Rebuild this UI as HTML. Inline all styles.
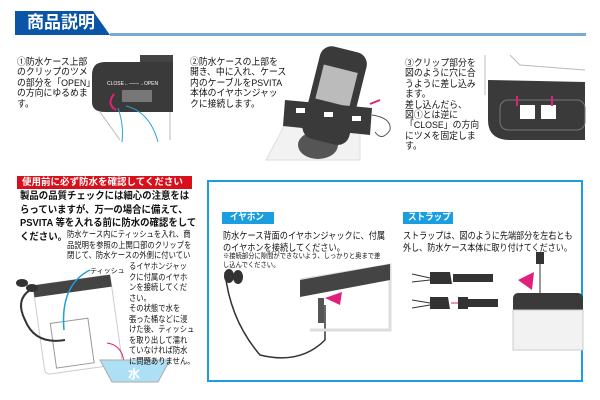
<!DOCTYPE html>
<html><head><meta charset="utf-8"><style>
*{margin:0;padding:0;box-sizing:border-box}
body{width:600px;height:400px;background:#fff;position:relative;overflow:hidden;font-family:"Liberation Sans","Noto Sans CJK JP",sans-serif;color:#111}
.a{position:absolute;transform-origin:0 0;white-space:nowrap}
.t{font-size:9.5px;line-height:10.4px;transform:scaleX(0.93)}
.s{font-size:8.5px;line-height:10.5px;transform:scaleX(0.86)}
</style></head><body>
<svg class="a" style="left:0;top:0" width="600" height="400">
<polygon points="15,11 93,11 110,35 15,35" fill="#0a55a5"/>
<rect x="110" y="33" width="476" height="3" fill="#7aa9d6"/>
<!-- ill 1 -->
<rect x="140" y="55" width="33" height="10" fill="#444"/>
<path d="M173,62 L105,62 Q92,62 92,75 L92,102 Q92,112 105,112 L173,112Z" fill="#3a3a3a"/>
<path d="M100,112 L120,140 M170,112 L170,140" stroke="#bbb" fill="none"/>
<text x="107" y="85" font-size="5" fill="#fff">CLOSE←——→OPEN</text>
<rect x="122" y="90" width="30" height="12" fill="#777"/>
<path d="M118,108 Q124,125 122,142 M126,106 Q150,112 158,142" stroke="#2aa0e0" fill="none"/>
<path d="M114,94 Q106,104 116,110" stroke="#e0207a" stroke-width="2" fill="none"/>
<!-- ill 2 -->
<path d="M266,160 L290,115 L360,115 L360,160Z" fill="#f2f2f2" stroke="#ddd"/>
<ellipse cx="318" cy="145" rx="20" ry="14" fill="#555"/>
<g transform="rotate(14 335 90)"><rect x="312" y="48" width="48" height="95" rx="12" fill="#3a3a3a"/><rect x="318" y="68" width="35" height="35" fill="#bbb"/></g>
<polygon points="285,100 372,108 370,135 283,126" fill="#3a3a3a"/>
<rect x="296" y="108" width="9" height="5" fill="#fff"/><rect x="324" y="112" width="9" height="5" fill="#fff"/><rect x="352" y="116" width="9" height="5" fill="#fff"/>
<path d="M372,115 Q392,118 390,130 Q382,142 375,132" stroke="#555" fill="none"/>
<path d="M380,100 L370,104" stroke="#e0207a" stroke-width="2"/>
<!-- ill 3 -->
<path d="M485,55 L485,95 M510,55 L520,65 L585,70" stroke="#bbb" fill="none"/>
<path d="M488,80 L585,82 L585,140 L510,140 Q488,140 488,120Z" fill="#3a3a3a"/>
<rect x="500" y="100" width="85" height="30" rx="8" fill="none" stroke="#777"/>
<rect x="520" y="105" width="15" height="14" fill="#fff"/><rect x="541" y="105" width="15" height="14" fill="#fff"/>
<path d="M517,96 L517,106 M552,96 L552,106" stroke="#e0207a" stroke-width="2"/>
<!-- section 2 -->
<rect x="17" y="176" width="175" height="13" fill="#d7101c"/>
<rect x="208" y="181" width="374" height="200" fill="none" stroke="#1a9ee0" stroke-width="2"/>
<rect x="222" y="212" width="52" height="12" fill="#1a9ee0"/>
<rect x="403" y="212" width="50" height="12" fill="#1a9ee0"/>
<!-- tissue -->
<g transform="rotate(-8 75 320)"><rect x="38" y="280" width="78" height="90" rx="5" fill="#fff" stroke="#ccc"/><rect x="38" y="280" width="78" height="12" fill="#444"/><rect x="50" y="320" width="38" height="45" fill="#fff" stroke="#999"/></g>
<path d="M30,290 Q15,300 25,320 Q35,345 65,340" stroke="#333" stroke-width="2" fill="none"/>
<ellipse cx="22" cy="283" rx="6" ry="4" fill="#333"/><ellipse cx="32" cy="288" rx="6" ry="4" fill="#333"/>
<path d="M90,270 Q60,285 64,330" stroke="#1a9ee0" stroke-width="1.5" fill="none"/>
<path d="M107,343 Q122,345 124,362" stroke="#e0207a" fill="none"/>
<path d="M100,360 L170,360 L158,382 L112,382Z" fill="#aee0f5" stroke="#aaa"/>
<text x="128" y="378" font-size="12" font-weight="bold" fill="#fff">水</text>
<!-- earphone ill -->
<path d="M225,272 Q230,320 260,355 Q300,365 325,340 L325,305" stroke="#333" stroke-width="1.5" fill="none"/>
<ellipse cx="229" cy="276" rx="5" ry="7" fill="#333"/><ellipse cx="238" cy="277" rx="5" ry="7" fill="#333"/>
<path d="M300,280 L390,265 L390,330 L310,330" fill="none" stroke="#ddd" stroke-width="3"/>
<polygon points="300,280 390,264 390,280 300,297" fill="#444"/>
<rect x="318" y="298" width="6" height="25" fill="#555"/>
<polygon points="325,298 342,292 340,305" fill="#e0207a"/>
<!-- strap ill -->
<rect x="453" y="274" width="40" height="8" fill="#333"/><polygon points="430,272 450,272 452,284 430,284" fill="#333"/>
<rect x="468" y="299" width="30" height="8" fill="#333"/><polygon points="430,297 448,297 450,309 430,309" fill="#333"/><polygon points="458,297 468,297 468,309 458,309" fill="#333"/>
<path d="M412,274 L430,278 M412,282 L430,280 M412,300 L430,303 M412,308 L430,305" stroke="#333"/>
<path d="M451,303 L458,303" stroke="#e0207a"/>
<rect x="513" y="293" width="70" height="22" rx="5" fill="#3a3a3a"/>
<rect x="513" y="310" width="70" height="40" fill="#f2f2f2" stroke="#ccc"/>
<rect x="536" y="252" width="8" height="12" fill="#333"/><path d="M540,264 L540,293" stroke="#333"/>
<polygon points="518,280 534,272 532,290" fill="#e0207a"/>
</svg>
<div class="a" style="left:27px;top:12px;font-size:17px;font-weight:bold;color:#fff;line-height:22px">商品説明</div>
<div class="a t" style="left:17px;top:58px">①防水ケース上部<br>のクリップのツメ<br>の部分を「OPEN」<br>の方向にゆるめま<br>す。</div>
<div class="a t" style="left:190px;top:58px">②防水ケースの上部を<br>開き、中に入れ、ケース<br>内のケーブルをPSVITA<br>本体のイヤホンジャッ<br>クに接続します。</div>
<div class="a t" style="left:405px;top:59px">③クリップ部分を<br>図のように穴に合<br>うように差し込み<br>ます。<br>差し込んだら、<br>図①とは逆に<br>「CLOSE」の方向<br>にツメを固定しま<br>す。</div>
<div class="a" style="left:22px;top:176px;font-size:9.5px;font-weight:bold;color:#fff;line-height:13px">使用前に必ず防水を確認してください</div>
<div class="a" style="left:20px;top:190px;font-size:10px;font-weight:bold;line-height:13.5px;transform:scaleX(0.94)">製品の品質チェックには細心の注意をは<br>らっていますが、万一の場合に備えて、<br>PSVITA 等を入れる前に防水の確認をして<br>ください。</div>
<div class="a s" style="left:67px;top:229px">防水ケース内にティッシュを入れ、商<br>品説明を参照の上開口部のクリップを<br>閉じて、防水ケースの外側に付いてい</div>
<div class="a s" style="left:129px;top:261px">るイヤホンジャッ<br>クに付属のイヤホ<br>ンを接続してくだ<br>さい。<br>その状態で水を<br>張った桶などに浸<br>けた後、ティッシュ<br>を取り出して濡れ<br>ていなければ防水<br>に問題ありません。</div>
<div class="a" style="left:90px;top:266px;font-size:7px">ティッシュ</div>
<div class="a" style="left:230px;top:212px;font-size:9.5px;font-weight:bold;color:#fff;line-height:12px;transform:scaleX(0.9)">イヤホン</div>
<div class="a" style="left:408px;top:212px;font-size:9.5px;font-weight:bold;color:#fff;line-height:12px;transform:scaleX(0.9)">ストラップ</div>
<div class="a" style="left:223px;top:231px;font-size:9.5px;line-height:11.5px;transform:scaleX(0.86)">防水ケース背面のイヤホンジャックに、付属<br>のイヤホンを接続してください。</div>
<div class="a" style="left:223px;top:253px;font-size:7px;line-height:8.5px;transform:scaleX(0.9)">※接続部分に隙間ができないよう、しっかりと奥まで差<br>し込んでください。</div>
<div class="a" style="left:403px;top:231px;font-size:9.5px;line-height:11.5px;transform:scaleX(0.85)">ストラップは、図のように先端部分を左右とも<br>外し、防水ケース本体に取り付けてください。</div>
</body></html>
